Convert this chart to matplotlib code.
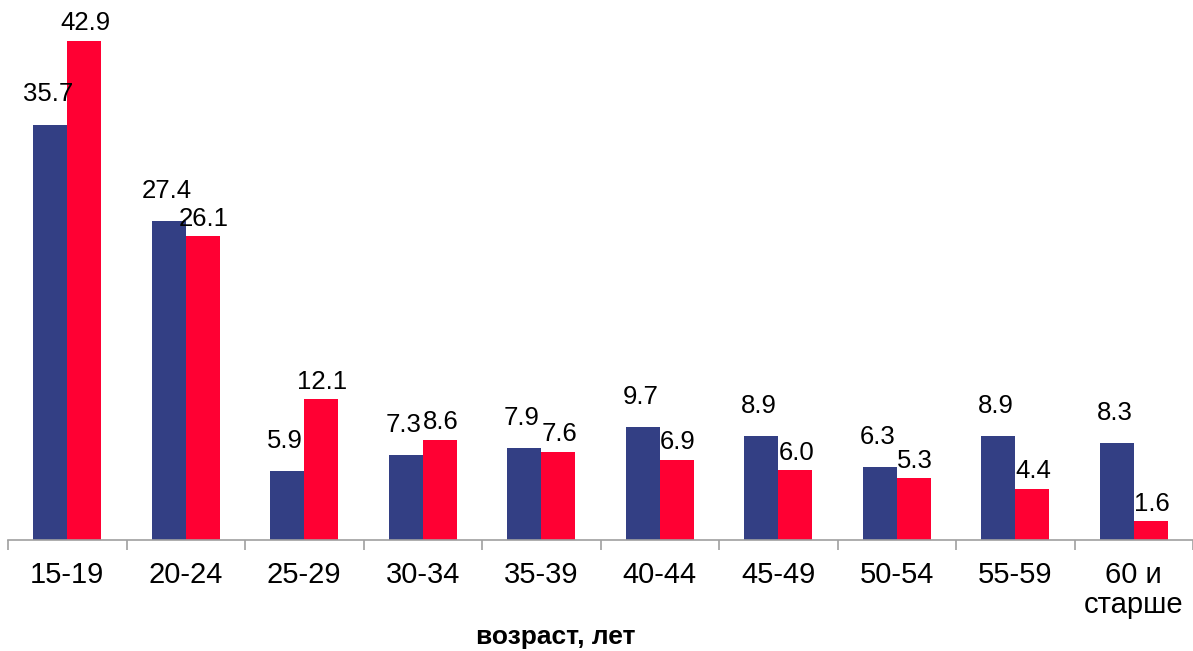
import matplotlib
matplotlib.use('Agg')
import matplotlib.pyplot as plt
import numpy as np

# age groups and two series
groups = ['15-19', '20-24', '25-29', '30-34', '35-39', '40-44', '45-49',
          '50-54', '55-59', '60 и\nстарше']
blue_vals = [35.7, 27.4, 5.9, 7.3, 7.9, 9.7, 8.9, 6.3, 8.9, 8.3]
red_vals = [42.9, 26.1, 12.1, 8.6, 7.6, 6.9, 6.0, 5.3, 4.4, 1.6]

plt.rcParams['font.family'] = ['Liberation Sans', 'DejaVu Sans']

fig = plt.figure(figsize=(11.93, 6.51), dpi=100)
ax = fig.add_axes([8 / 1193, 1 - 540 / 651, 1 - 8 / 1193, 540 / 651])

x = np.arange(len(groups))
w = 0.287
b1 = ax.bar(x - w / 2, blue_vals, w, color='#333F84')
b2 = ax.bar(x + w / 2, red_vals, w, color='#FF0033')

for rect, v in zip(b1, blue_vals):
    ax.annotate(f'{v:.1f}', (rect.get_x() + rect.get_width() / 2 - 0.02, v),
                xytext=(0, 13), textcoords='offset points',
                ha='center', va='bottom', fontsize=18.5)
for rect, v in zip(b2, red_vals):
    ax.annotate(f'{v:.1f}', (rect.get_x() + rect.get_width() / 2 + 0.01, v),
                xytext=(0, 4), textcoords='offset points',
                ha='center', va='bottom', fontsize=18.5)

ax.set_xlim(-0.5, len(groups) - 0.5)
ax.set_ylim(0, 46.4)

for s in ['top', 'right', 'left']:
    ax.spines[s].set_visible(False)
ax.spines['bottom'].set_color('#A0A0A0')
ax.spines['bottom'].set_linewidth(1.2)

ax.set_yticks([])
ax.set_xticks(x)
ax.set_xticklabels(groups, fontsize=21, linespacing=1.1)
ax.tick_params(axis='x', which='major', length=0, pad=15)
ax.set_xticks(np.arange(len(groups) + 1) - 0.5, minor=True)
ax.tick_params(axis='x', which='minor', length=7, color='#A0A0A0', width=1.2)

fig.text(556 / 1193, 1 - 637 / 651, 'возраст, лет', fontsize=19,
         fontweight='bold', ha='center', va='center')

fig.savefig('out.png', dpi=100)
